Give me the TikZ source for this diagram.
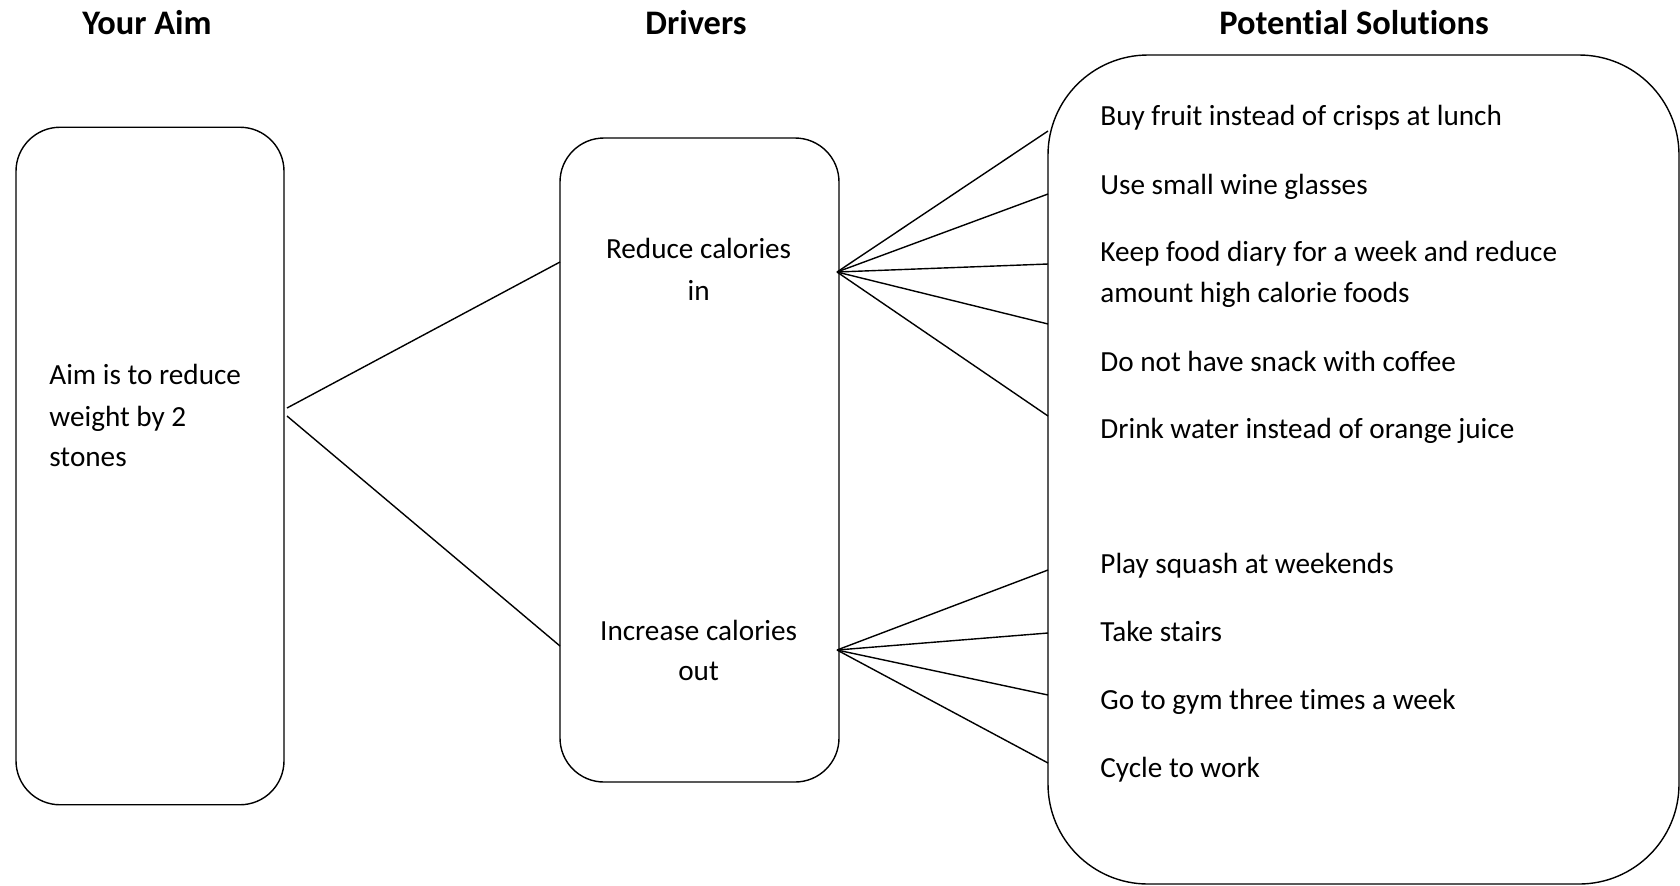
\documentclass[tikz,border=0pt]{standalone}
\usepackage{fontspec}
\setmainfont{Carlito}[Ligatures=NoCommon]
\begin{document}
\begin{tikzpicture}[x=0.5pt,y=-0.5pt,
  box/.style={draw, line width=0.7pt, inner sep=0pt},
  txt/.style={font=\fontsize{14.6}{17}\selectfont, inner sep=0pt, anchor=mid west},
  ctxt/.style={font=\fontsize{14.6}{17}\selectfont, inner sep=0pt, anchor=mid},
  title/.style={font=\fontsize{17.2}{20}\selectfont\bfseries, inner sep=0pt, anchor=base},
  link/.style={line width=0.7pt}]
\useasboundingbox (0,0) rectangle (1680,885);

% titles
\node[title] (t1) at (147,34) {Your Aim};
\node[title] (t2) at (696,34) {Drivers};
\node[title] (t3) at (1354,34) {Potential Solutions};

% boxes
\node[box, rounded corners=22pt, minimum width=134pt, minimum height=338.75pt] (aim) at (150,466) {};
\node[box, rounded corners=22pt, minimum width=139.5pt, minimum height=322pt] (drv) at (699.5,460) {};
\node[box, rounded corners=50pt, minimum width=315.5pt, minimum height=414.5pt] (sol) at (1363.5,469.5) {};

% aim text
\node[txt] (a1) at (49,379.4) {Aim is to reduce};
\node[txt] (a2) at (49,421.4) {weight by 2};
\node[txt] (a3) at (49,461.4) {stones};

% driver text
\node[ctxt] (d1) at (698.6,254) {Reduce calories};
\node[ctxt] (d2) at (698.6,295.8) {in};
\node[ctxt] (d3) at (698.6,635.4) {Increase calories};
\node[ctxt] (d4) at (698.6,676.1) {out};

% solutions text
\node[txt] (s1) at (1100,121.1) {Buy fruit instead of crisps at lunch};
\node[txt] (s2) at (1100,189.7) {Use small wine glasses};
\node[txt] (s3) at (1100,257.2) {Keep food diary for a week and reduce};
\node[txt] (s3b) at (1100,297.9) {amount high calorie foods};
\node[txt] (s4) at (1100,366.4) {Do not have snack with coffee};
\node[txt] (s5) at (1100,434) {Drink water instead of orange juice};
\node[txt] (s6) at (1100,569) {Play squash at weekends};
\node[txt] (s7) at (1100,636.4) {Take stairs};
\node[txt] (s8) at (1100,705) {Go to gym three times a week};
\node[txt] (s9) at (1100,772.4) {Cycle to work};

% connector coordinates
\coordinate (aimR1) at (287,408);
\coordinate (aimR2) at (287,416);
\coordinate (drvL1) at (560,262);
\coordinate (drvL2) at (560,646);
\coordinate (rin) at (837,272);
\coordinate (rout) at (837,650);
\coordinate (e1) at (1048,131);
\coordinate (e2) at (1048,194);
\coordinate (e3) at (1048,264);
\coordinate (e4) at (1048,324);
\coordinate (e5) at (1048,416);
\coordinate (e6) at (1048,570);
\coordinate (e7) at (1048,633);
\coordinate (e8) at (1048,695);
\coordinate (e9) at (1048,763);

\draw[link] (aimR1) -- (drvL1);
\draw[link] (aimR2) -- (drvL2);
\foreach \e in {e1,e2,e3,e4,e5} \draw[link] (rin) -- (\e);
\foreach \e in {e6,e7,e8,e9} \draw[link] (rout) -- (\e);
\end{tikzpicture}
\end{document}
